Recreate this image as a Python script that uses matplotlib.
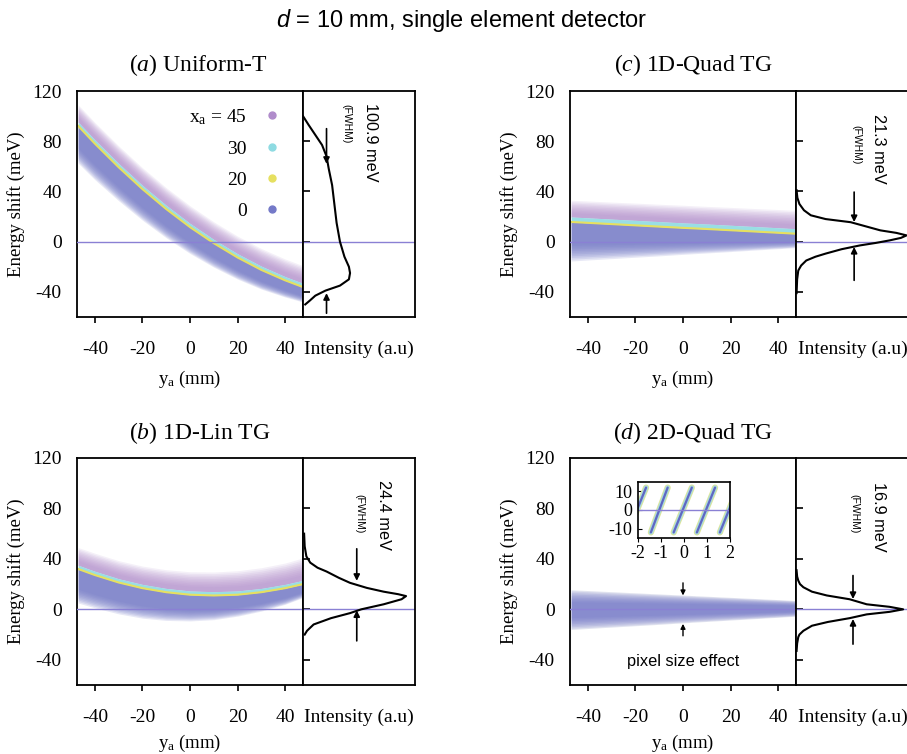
import numpy as np
import matplotlib.pyplot as plt
from matplotlib.lines import Line2D

plt.rcParams['font.family'] = 'Liberation Serif'
plt.rcParams['mathtext.fontset'] = 'custom'
plt.rcParams['mathtext.rm'] = 'Liberation Serif'
plt.rcParams['mathtext.it'] = 'Liberation Serif:italic'
plt.rcParams['mathtext.sf'] = 'Liberation Sans:italic'
plt.rcParams['axes.unicode_minus'] = False

# detector position y_a (mm) where the bands were read
ya = [-47, -40, -30, -20, -10, 0, 10, 20, 30, 40, 47]

# (a) Uniform-T : band edges and centre lines (meV)
a_bottom = [62.5, 49.4, 32.6, 17.1, 3.1, -9.4, -20.3, -29.8, -37.8, -44.1, -47.8]
a_yellow = [92.2, 78.1, 59.3, 41.9, 26.0, 11.6, -1.2, -12.6, -22.5, -30.8, -35.8]
a_cyan = [95.2, 81.1, 62.3, 44.9, 29.0, 14.6, 1.8, -9.6, -19.5, -27.8, -32.8]
a_top = [109, 95, 76.3, 58.9, 43, 28.6, 15.8, 4.4, -5.5, -13.8, -18.8]

# (b) 1D-Lin TG
b_bottom = [5, 1.2, -3.6, -7, -8.8, -9.2, -8.2, -5.4, -1.4, 4, 9]
b_yellow = [32, 27.2, 21.3, 16.8, 13.6, 11.6, 11, 11.6, 13.6, 16.8, 19.8]
b_cyan = [35, 30.2, 24.3, 19.8, 16.6, 14.6, 14, 14.6, 16.6, 19.8, 22.8]
b_top = [49, 44.5, 38.6, 34.3, 31.4, 29.8, 29.6, 30.6, 33, 36.7, 40.5]

# (c) 1D-Quad TG
c_bottom = [-15.4, -14.6, -13.5, -12.4, -11.3, -10.1, -9.0, -7.9, -6.7, -5.6, -4.8]
c_yellow = [15.7, 15.0, 14.0, 13.0, 12.0, 11.0, 10.1, 9.1, 8.1, 7.1, 6.4]
c_cyan = [19.7, 19.0, 18.0, 17.0, 16.0, 15.0, 14.1, 13.1, 12.1, 11.1, 10.4]
c_top = [33, 32.4, 31.5, 30.7, 29.8, 29, 28.1, 27.3, 26.4, 25.6, 25]

# (d) 2D-Quad TG
d_bottom = [-16, -15.2, -14.1, -13, -11.9, -10.7, -9.6, -8.5, -7.4, -6.3, -5.5]
d_top = [15.5, 14.9, 14, 13.1, 12.2, 11.3, 10.4, 9.5, 8.6, 7.7, 7]

# intensity profiles (energy in meV, intensity normalised)
a_prof_e = [100, 93, 85, 77, 68, 58, 45, 30, 15, 0, -12, -20, -25, -30, -35, -39, -43, -47, -50]
a_prof_i = [0.0, 0.05, 0.11, 0.17, 0.21, 0.23, 0.26, 0.28, 0.30, 0.33, 0.37, 0.41, 0.42, 0.41, 0.33, 0.2, 0.11, 0.06, 0.02]
b_prof_e = [60, 50, 42, 37, 33, 30, 25, 21, 17, 14, 12, 10.5, 8, 4, 0, -3, -7, -12, -17, -20]
b_prof_i = [0.01, 0.015, 0.03, 0.065, 0.13, 0.21, 0.32, 0.42, 0.57, 0.72, 0.85, 0.92, 0.88, 0.72, 0.52, 0.42, 0.25, 0.095, 0.036, 0.015]
c_prof_e = [41, 35, 30, 25, 21, 18, 15.5, 12, 9, 7, 5, 3, 1, -1, -3, -6, -9.5, -12, -15, -19, -23, -30, -41]
c_prof_i = [0.005, 0.012, 0.03, 0.07, 0.13, 0.26, 0.48, 0.62, 0.74, 0.88, 0.97, 0.92, 0.82, 0.7, 0.56, 0.4, 0.26, 0.17, 0.09, 0.045, 0.02, 0.01, 0.005]
d_prof_e = [31, 26, 22.8, 20, 17.5, 14, 11, 8, 4, 2, 0, -2, -4, -7, -10, -13, -17, -20, -22, -27, -33]
d_prof_i = [0.005, 0.01, 0.02, 0.035, 0.065, 0.14, 0.27, 0.47, 0.62, 0.82, 0.94, 0.82, 0.62, 0.47, 0.28, 0.14, 0.065, 0.03, 0.02, 0.01, 0.005]

# FWHM arrows: x position, down arrow (from, to), up arrow (from, to)
a_arrow = [0.21, 90, 62, -57, -41]
b_arrow = [0.48, 48, 22.6, -25, -0.8]
c_arrow = [0.51, 39.5, 15.6, -30.8, -4.2]
d_arrow = [0.50, 26.8, 8.2, -27.6, -7.7]
fwhm_text = ['100.9 meV', '24.4 meV', '21.3 meV', '16.9 meV']

# inset of (d): stripes from (x0, e0) to (x1, e1)
inset_x0 = [-2.44, -1.44, -0.45, 0.56, 1.56]
inset_x1 = [-1.65, -0.71, 0.34, 1.35, 2.35]
inset_e0 = -12
inset_e1 = 12

legend_labels = [r'$\mathrm{x_a}$ = 45', '30', '20', '0']

BLUE = '#7479c8'
PURPLE = '#b08ccb'
CYAN = '#8edbe2'
YELLOW = '#e6e060'
ZERO = '#8a80d4'

W, H = 907, 754
fig = plt.figure(figsize=(W / 100, H / 100), dpi=100)


def px_rect(l, r, t, b):
    return [l / W, 1 - b / H, (r - l) / W, (b - t) / H]


def draw_band(ax, bottom, yellow, cyan, top):
    bottom, yellow, cyan, top = [np.array(v, float) for v in (bottom, yellow, cyan, top)]
    w = yellow - bottom
    for f in np.linspace(0, 0.4, 10):
        ax.fill_between(ya, bottom + f * w, yellow, color=BLUE, alpha=0.17, lw=0)
    h = top - cyan
    for f in np.linspace(1.0, 0.25, 10):
        ax.fill_between(ya, cyan, cyan + f * h, color=PURPLE, alpha=0.13, lw=0)
    ax.fill_between(ya, yellow, cyan, color=CYAN, alpha=0.9, lw=0)
    ax.plot(ya, yellow, color=YELLOW, lw=1.5)


def setup_main(ax, labelpad):
    ax.set_xlim(-47.5, 47.5)
    ax.set_ylim(-60, 120)
    ax.set_xticks([-40, -20, 0, 20, 40])
    ax.set_yticks([-40, 0, 40, 80, 120])
    ax.tick_params(axis='x', direction='out', length=4, width=1.2, pad=13, labelsize=14)
    ax.tick_params(axis='y', length=0, pad=11, labelsize=14)
    ax.set_ylabel('Energy shift (meV)', fontsize=13.5, labelpad=5)
    ax.set_xlabel(r'$\mathrm{y_a}$ (mm)', fontsize=13.5, labelpad=labelpad)
    ax.axhline(0, color=ZERO, lw=1.0, zorder=5)
    for s in ax.spines.values():
        s.set_linewidth(1.3)


def setup_int(ai, prof_e, prof_i, arrow, label, label_xy, fwhm_xy):
    ai.set_xlim(0, 1)
    ai.set_ylim(-60, 120)
    ai.set_xticks([0.5])
    ai.set_xticklabels(['Intensity (a.u)'])
    ai.tick_params(axis='x', length=0, pad=17, labelsize=14)
    ai.set_yticks([-40, 0, 40, 80])
    ai.tick_params(axis='y', direction='in', length=5, width=1.2, labelleft=False)
    ai.axhline(0, color=ZERO, lw=1.0)
    ai.plot(prof_i, prof_e, color='black', lw=1.5)
    x, d0, d1, u0, u1 = arrow
    props = dict(arrowstyle='-|>', color='black', lw=1.2, mutation_scale=9, shrinkA=0, shrinkB=0)
    ai.annotate('', xy=(x, d1), xytext=(x, d0), arrowprops=props)
    ai.annotate('', xy=(x, u1), xytext=(x, u0), arrowprops=props)
    ai.text(*label_xy, label, rotation=270, ha='center', va='center',
            family='Liberation Sans', fontsize=11.7)
    ai.text(*fwhm_xy, '(FWHM)', rotation=270, ha='center', va='center',
            family='Liberation Sans', fontsize=7.5)
    for s in ai.spines.values():
        s.set_linewidth(1.3)


rects = {
    'a': (77, 303, 415, 91, 317),
    'c': (570, 796, 910, 91, 317),
    'b': (77, 303, 415, 458, 685),
    'd': (570, 796, 910, 458, 685),
}
titles = {
    'a': (r'($\mathit{a}$) Uniform-T', 198, 65),
    'c': (r'($\mathit{c}$) 1D-Quad TG', 693, 65),
    'b': (r'($\mathit{b}$) 1D-Lin TG', 200, 433),
    'd': (r'($\mathit{d}$) 2D-Quad TG', 693, 433),
}
profiles = {
    'a': (a_prof_e, a_prof_i, a_arrow, fwhm_text[0], (0.60, 79), (0.39, 94)),
    'b': (b_prof_e, b_prof_i, b_arrow, fwhm_text[1], (0.72, 74.5), (0.50, 76)),
    'c': (c_prof_e, c_prof_i, c_arrow, fwhm_text[2], (0.72, 74), (0.53, 77)),
    'd': (d_prof_e, d_prof_i, d_arrow, fwhm_text[3], (0.72, 73.7), (0.51, 75.6)),
}
bands = {
    'a': (a_bottom, a_yellow, a_cyan, a_top),
    'b': (b_bottom, b_yellow, b_cyan, b_top),
    'c': (c_bottom, c_yellow, c_cyan, c_top),
}

axes = {}
for key, (l, m, r, t, b) in rects.items():
    ax = fig.add_axes(px_rect(l, m, t, b))
    ai = fig.add_axes(px_rect(m, r, t, b))
    setup_main(ax, 8 if key in 'ac' else 5)
    setup_int(ai, *profiles[key])
    if key in bands:
        draw_band(ax, *bands[key])
    text, tx, ty = titles[key]
    fig.text(tx / W, 1 - ty / H, text, ha='center', va='center', fontsize=17)
    axes[key] = ax

# (d) main band, fading at both edges
ax = axes['d']
lo = np.array(d_bottom, float)
hi = np.array(d_top, float)
w = hi - lo
ax.fill_between(ya, lo, hi, color='#aab0d2', alpha=0.35, lw=0)
for f in np.linspace(0.03, 0.3, 8):
    ax.fill_between(ya, lo + f * w, hi - f * w, color=BLUE, alpha=0.18, lw=0)
props = dict(arrowstyle='-|>', color='black', lw=1.0, mutation_scale=7, shrinkA=0, shrinkB=0)
ax.annotate('', xy=(0, 11), xytext=(0, 21), arrowprops=props)
ax.annotate('', xy=(0, -11.5), xytext=(0, -21), arrowprops=props)
ax.text(0, -41, 'pixel size effect', ha='center', va='center',
        family='Liberation Sans', fontsize=11.8)

# inset
axi = fig.add_axes(px_rect(638, 730, 482, 538))
axi.set_xlim(-2, 2)
axi.set_ylim(-15, 15)
for x0, x1 in zip(inset_x0, inset_x1):
    axi.plot([x0, x1], [inset_e0, inset_e1], color='#dfe79a', lw=4.5, solid_capstyle='round')
    axi.plot([x0, x1], [inset_e0, inset_e1], color='#a6d9e0', lw=3.2, solid_capstyle='round')
    axi.plot([x0, x1], [inset_e0, inset_e1], color='#6067c2', lw=1.6, solid_capstyle='round')
axi.axhline(0, color=ZERO, lw=1.0)
axi.set_xticks([-2, -1, 0, 1, 2])
axi.set_yticks([-10, 0, 10])
axi.tick_params(axis='x', direction='out', length=3, pad=2, labelsize=13)
axi.tick_params(axis='y', direction='in', length=3, pad=4, labelsize=13)
for s in axi.spines.values():
    s.set_linewidth(1.2)

# legend in (a)
handles = [Line2D([], [], marker='o', ls='', color=c, markersize=5)
           for c in [PURPLE, CYAN, YELLOW, BLUE]]
axes['a'].legend(handles, legend_labels, loc='upper right', bbox_to_anchor=(0.89, 0.93),
                 frameon=False, markerfirst=False, fontsize=14, handlelength=0.6,
                 handletextpad=1.0, labelspacing=0.7, borderpad=0, borderaxespad=0)

fig.text(462 / W, 1 - 20 / H, r'$\mathsf{d}$ = 10 mm, single element detector',
         ha='center', va='center', family='Liberation Sans', fontsize=17)

fig.savefig('out.png', dpi=100)
